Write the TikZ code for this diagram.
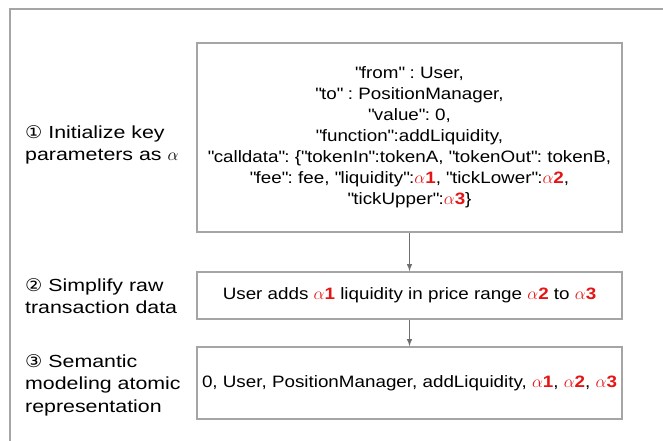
\documentclass[tikz,border=0pt]{standalone}
\usepackage{fontspec}
\setmainfont{Liberation Sans}[FakeStretch=1.14]
\newfontfamily\labelfont{Liberation Sans}[FakeStretch=1.22]
\newfontfamily\circfont{DejaVu Sans}[FakeStretch=1.1]
\usetikzlibrary{positioning}
\frenchspacing

\definecolor{framegray}{RGB}{165,165,165}
\definecolor{arrowgray}{RGB}{110,110,110}
\definecolor{alphared}{RGB}{230,20,20}

% red parameter marks and straight quotes
\newcommand{\param}[1]{\textcolor{alphared}{$\alpha$\textbf{#1}}}
\newcommand{\q}[1]{\textquotedbl#1\textquotedbl}

\tikzset{
  stepbox/.style={draw=framegray, line width=1.6pt, fill=white,
    minimum width=425pt, align=center, inner sep=0pt,
    font=\fontsize{16.5}{21}\selectfont},
  steplabel/.style={anchor=west, align=left, inner sep=0pt,
    font=\labelfont\fontsize{17.5}{22.5}\selectfont},
  flow/.style={draw=arrowgray, line width=1.4pt, -latex}
}

\begin{document}
\begin{tikzpicture}[x=1pt, y=-1pt]

\useasboundingbox (0,0) rectangle (663,441);

% outer frame
\draw[framegray, line width=1.6pt] (663,9) -- (10,9) -- (10,441);

% step boxes
\node[stepbox, minimum height=189pt] (raw) at (409.5,137.5) {
\q{from} : User,\\
\q{to} : PositionManager,\\
\q{value}: 0,\\
\q{function}:addLiquidity,\\
\q{calldata}: \{\q{tokenIn}:tokenA, \q{tokenOut}: tokenB,\\
\q{fee}: fee, \q{liquidity}:\param{1}, \q{tickLower}:\param{2},\\
\q{tickUpper}:\param{3}\}};

\node[stepbox, minimum height=47pt] (simple) at (409.5,295.5)
  {User adds \param{1} liquidity in price range \param{2} to \param{3}};

\node[stepbox, minimum height=72pt] (atomic) at (409.5,383)
  {0, User, PositionManager, addLiquidity, \param{1}, \param{2}, \param{3}};

\draw[flow] (raw) -- (simple);
\draw[flow] (simple) -- (atomic);

% step labels
\node[steplabel] (lab1) at (25,145) {{\circfont ①} Initialize key\\parameters as $\alpha$};
\node[steplabel] (lab2) at (25,296) {{\circfont ②} Simplify raw\\transaction data};
\node[steplabel] (lab3) at (25,385) {{\circfont ③} Semantic\\modeling atomic\\representation};

\end{tikzpicture}
\end{document}
